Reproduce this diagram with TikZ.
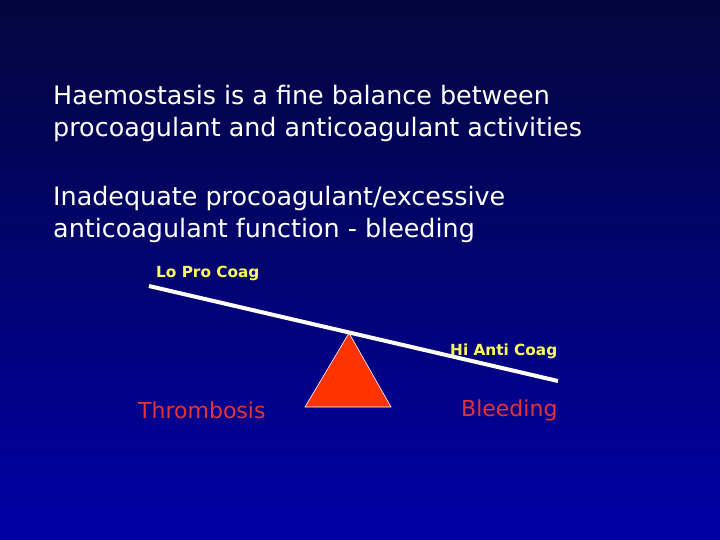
\documentclass[tikz,border=0pt]{standalone}
\usepackage{fontspec}
\setmainfont{DejaVu Sans}
\usetikzlibrary{positioning}
\definecolor{SlideTop}{RGB}{3,6,60}
\definecolor{SlideBot}{RGB}{0,0,165}
\definecolor{CoagYellow}{RGB}{255,255,90}
\definecolor{OutRed}{RGB}{228,52,52}
\definecolor{PivotRed}{RGB}{255,51,0}

\begin{document}
\begin{tikzpicture}[x=1pt, y=-1pt,
          body/.style={text=white, anchor=west, align=left, inner sep=0pt,
                       font=\fontsize{25.4}{32}\selectfont},
          tag/.style={text=CoagYellow, anchor=base west, inner sep=0pt,
                      font=\fontsize{15.3}{17}\selectfont\bfseries},
          outcome/.style={text=OutRed, anchor=base west, inner sep=0pt,
                          font=\fontsize{22}{26}\selectfont},
          beam/.style={white, line width=4pt},
          pivot/.style={fill=PivotRed, draw=white, line width=0.6pt}
        ]
        % Slide background
        \useasboundingbox (0,0) rectangle (720,540);
        \shade[top color=SlideTop, bottom color=SlideBot] (0,0) rectangle (720,540);

        % Statements
        \node[body] (intro) at (53,113)
              {Haemostasis is a fine balance between\\procoagulant and anticoagulant activities};
        \node[body] (bleed) at (53,214)
              {Inadequate procoagulant/excessive\\anticoagulant function - bleeding};

        % Balance beam and pivot
        \coordinate (lo)  at (149,286);
        \coordinate (hi)  at (558,381);
        \coordinate (apex) at (349,333);
        \coordinate (bl)  at (305,407);
        \coordinate (br)  at (391,407);
        \draw[pivot] (apex) -- (br) -- (bl) -- cycle;
        \draw[beam] (lo) -- (hi);

        % Labels
        \node[tag]     (lopro)    at (156,277) {Lo Pro Coag};
        \node[tag]     (hianti)   at (450,355) {Hi Anti Coag};
        \node[outcome] (thromb)   at (138,418) {Thrombosis};
        \node[outcome] (bleeding) at (461,416) {Bleeding};
      \end{tikzpicture}
\end{document}
